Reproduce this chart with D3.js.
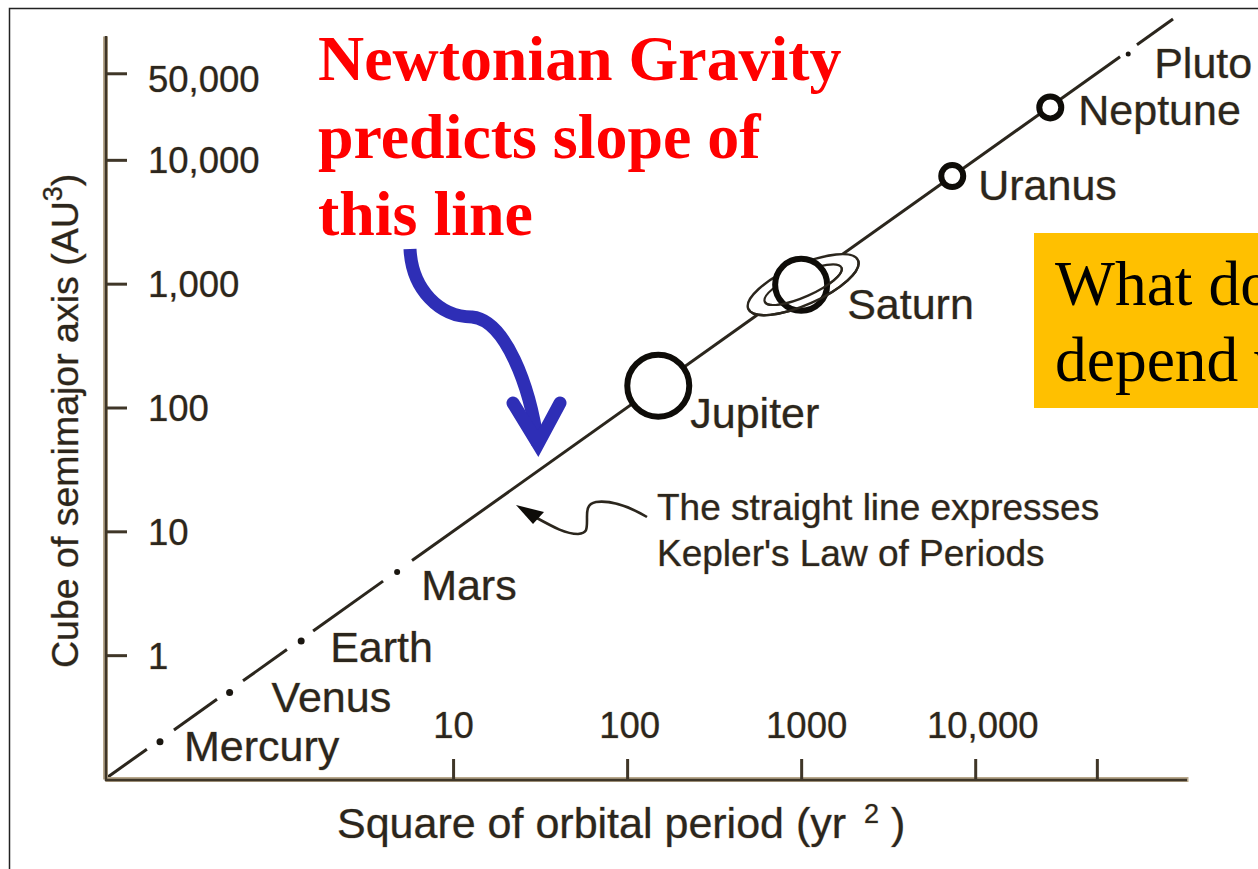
<!DOCTYPE html>
<html>
<head>
<meta charset="utf-8">
<script src="https://cdn.jsdelivr.net/npm/d3@7"></script>
<style>
  html, body { margin: 0; padding: 0; background: #fff; overflow: hidden; }
  svg { display: block; }
  .sans { font-family: "Liberation Sans", Arial, sans-serif; fill: #2b261d; stroke: #b8a88c; stroke-width: 0.7px; paint-order: stroke; }
  .red { font-family: "Liberation Serif", serif; font-weight: bold; fill: #ff0000; font-size: 63.9px; }
  .box { font-family: "Liberation Serif", serif; fill: #000; font-size: 63.5px; }
</style>
</head>
<body>
<svg width="1258" height="869"></svg>
<script>
// values
var planets = ["Mercury", "Venus", "Earth", "Mars", "Jupiter", "Saturn", "Uranus", "Neptune", "Pluto"];
var periodSquared = [0.207, 0.52, 1.34, 4.77, 151, 1000, 7380, 27000, 75700];
var axisCubed = [0.2, 0.5, 1.3, 4.7, 150, 1000, 7400, 26500, 71600];

var xTicks = [10, 100, 1000, 10000, 50000];
var xTickLabels = ["10", "100", "1000", "10,000", ""];
var yTicks = [1, 10, 100, 1000, 10000, 50000];
var yTickLabels = ["1", "10", "100", "1,000", "10,000", "50,000"];

// the straight line is broken up around the small planets
var lineStart = [0.1, 0.249, 0.621, 1.57, 5.81, 85000];
var lineEnd = [0.174, 0.44, 1.11, 3.96, 68000, 137000];

var svg = d3.select("svg");

var x = d3.scaleLog().domain([0.1, 167000]).range([105, 1188]);
var y = d3.scaleLog().domain([0.1, 100000]).range([779, 36]);

// slide frame
svg.append("path").attr("d", "M9.5,869V8.5H1258").attr("fill", "none").attr("stroke", "#222").attr("stroke-width", 1.5);

// law line
var g = svg.append("g");
g.selectAll(".law")
    .data(lineStart)
    .enter().append("line")
    .attr("class", "law")
    .attr("x1", function(d) { return x(d); })
    .attr("y1", function(d) { return y(d); })
    .attr("x2", function(d, i) { return x(lineEnd[i]); })
    .attr("y2", function(d, i) { return y(lineEnd[i]); })
    .attr("stroke", "#2b261d")
    .attr("stroke-width", 3);

// axes
var xAxis = d3.axisBottom(x).tickValues(xTicks).tickSize(-20).tickSizeOuter(0)
    .tickFormat(function(d, i) { return xTickLabels[i]; });
var yAxis = d3.axisLeft(y).tickValues(yTicks).tickSize(-22).tickSizeOuter(0)
    .tickFormat(function(d, i) { return yTickLabels[i]; });

var gx = svg.append("g").attr("transform", "translate(0,779)").call(xAxis);
var gy = svg.append("g").attr("transform", "translate(105,0)").call(yAxis);

gx.selectAll(".domain, line").attr("stroke", "#3f3628").attr("stroke-width", 3);
gy.selectAll(".domain, line").attr("stroke", "#3f3628").attr("stroke-width", 3);
gx.select(".domain").attr("stroke-width", 5).attr("stroke", "#b8a88c");
gy.select(".domain").attr("stroke-width", 5).attr("stroke", "#b8a88c");
// darker half of each axis line
svg.append("line").attr("x1", 105).attr("x2", 1187).attr("y1", 780).attr("y2", 780).attr("stroke", "#3f3628").attr("stroke-width", 2.5);
svg.append("line").attr("x1", 106).attr("x2", 106).attr("y1", 36).attr("y2", 781).attr("stroke", "#3f3628").attr("stroke-width", 2.5);

gx.selectAll("text")
    .attr("class", "sans")
    .attr("font-size", 36.5)
    .attr("text-anchor", "middle")
    .attr("dx", function(d) { return d >= 10000 ? 7 : d >= 1000 ? 5 : d >= 100 ? 2 : 0; })
    .attr("y", -41)
    .attr("dy", 0);

gy.selectAll("text")
    .attr("class", "sans")
    .attr("font-size", 36.5)
    .attr("text-anchor", "start")
    .attr("x", 43)
    .attr("y", function(d) { return d == 50000 ? 5 : 0; })
    .attr("dy", "0.36em");

// planets, each one a different drawing on the line
var points = planets.map(function(name, i) {
    return {name: name, px: x(periodSquared[i]), py: y(axisCubed[i])};
});
var dotR = {Mercury: 3.5, Venus: 3.5, Earth: 3.5, Mars: 3, Pluto: 2.5};
var ringR = {Jupiter: 31, Uranus: 11, Neptune: 11};
var labelAt = {
    Mercury: [24, 19], Venus: [42, 20], Earth: [29, 21], Mars: [24, 28], Jupiter: [32, 42],
    Saturn: [46, 35], Uranus: [26, 24], Neptune: [28, 18], Pluto: [26, 24]
};

points.forEach(function(p) {
    if (dotR[p.name]) {
        svg.append("circle").attr("cx", p.px).attr("cy", p.py).attr("r", dotR[p.name]).attr("fill", "#1a1610");
    } else if (ringR[p.name]) {
        svg.append("circle").attr("cx", p.px).attr("cy", p.py).attr("r", ringR[p.name])
            .attr("fill", "#fff").attr("stroke", "#0e0c08").attr("stroke-width", 6);
    } else {
        // Saturn and its rings
        var s = svg.append("g").attr("transform", "translate(" + (p.px + 2) + "," + (p.py + 1) + ") rotate(-24)");
        s.append("ellipse").attr("rx", 60).attr("ry", 20).attr("fill", "#fff").attr("stroke", "#2b261d").attr("stroke-width", 2.4);
        s.append("ellipse").attr("rx", 42).attr("ry", 12).attr("fill", "none").attr("stroke", "#2b261d").attr("stroke-width", 2.2);
        svg.append("circle").attr("cx", p.px).attr("cy", p.py + 1).attr("r", 26)
            .attr("fill", "#fff").attr("stroke", "#0e0c08").attr("stroke-width", 6);
        var f = svg.append("g").attr("transform", "translate(" + (p.px + 2) + "," + (p.py + 1) + ") rotate(-24)");
        f.append("path").attr("d", "M-60,0A60,20 0 0 0 60,0").attr("fill", "none").attr("stroke", "#2b261d").attr("stroke-width", 2.4);
        f.append("path").attr("d", "M-42,0A42,12 0 0 0 42,0").attr("fill", "none").attr("stroke", "#2b261d").attr("stroke-width", 2.2);
    }
    svg.append("text").attr("class", "sans").attr("font-size", 43)
        .attr("x", p.px + labelAt[p.name][0])
        .attr("y", p.py + labelAt[p.name][1])
        .text(p.name);
});

// axis titles
var xTitle = svg.append("text").attr("class", "sans").attr("font-size", 43).attr("x", 337).attr("y", 838);
xTitle.append("tspan").text("Square of orbital period (yr ");
xTitle.append("tspan").attr("font-size", 27).attr("dx", 6).attr("dy", -15).text("2");
xTitle.append("tspan").attr("dy", 15).text(" )");

var yTitle = svg.append("text").attr("class", "sans").attr("font-size", 37.5)
    .attr("transform", "translate(78,668) rotate(-90)");
yTitle.append("tspan").text("Cube of semimajor axis (AU");
yTitle.append("tspan").attr("font-size", 27).attr("dy", -16).text("3");
yTitle.append("tspan").attr("dy", 16).text(")");

// note about the line
svg.append("text").attr("class", "sans").attr("font-size", 37).attr("x", 657).attr("y", 520).text("The straight line expresses");
svg.append("text").attr("class", "sans").attr("font-size", 37).attr("x", 657).attr("y", 566).text("Kepler's Law of Periods");

svg.append("path")
    .attr("d", "M647,517C630,507 612,500 596,502C586,504 587,512 587,520C587,530 587,533 578,534C566,534 555,528 535,517")
    .attr("fill", "none").attr("stroke", "#2b261d").attr("stroke-width", 2.6);
svg.append("path").attr("d", "M516,505L544,512L533,524Z").attr("fill", "#0e0c08");

// red heading
var heading = ["Newtonian Gravity", "predicts slope of", "this line"];
svg.selectAll(".red")
    .data(heading)
    .enter().append("text")
    .attr("class", "red")
    .attr("x", 318)
    .attr("y", function(d, i) { return 80 + i * 77.5; })
    .text(function(d) { return d; });

// blue arrow
svg.append("path")
    .attr("d", "M410,249C412,290 440,317 472,317C505,320 530,385 538,445")
    .attr("fill", "none").attr("stroke", "#2e2eb6").attr("stroke-width", 13);
svg.append("path")
    .attr("d", "M513,403L538,444L560,403")
    .attr("fill", "none").attr("stroke", "#2e2eb6").attr("stroke-width", 13)
    .attr("stroke-linecap", "round").attr("stroke-linejoin", "miter");

// orange box, runs off the slide
svg.append("rect").attr("x", 1034).attr("y", 233).attr("width", 224).attr("height", 175).attr("fill", "#ffc000");
svg.append("text").attr("class", "box").attr("x", 1055).attr("y", 305).text("What do");
svg.append("text").attr("class", "box").attr("x", 1055).attr("y", 381).text("depend v");
</script>
</body>
</html>
